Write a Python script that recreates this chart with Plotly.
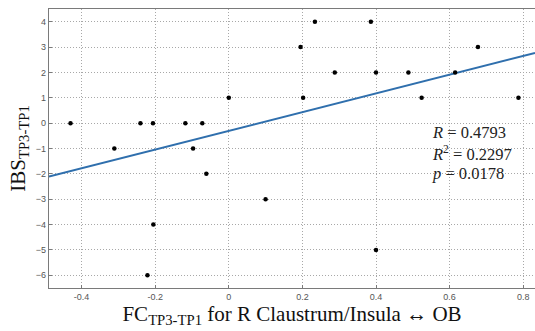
import plotly.graph_objects as go

fc_x = [-0.43, -0.311, -0.24, -0.206, -0.118, -0.097, -0.072, 0.0,
        -0.061, 0.100, -0.205, -0.221,
        0.234, 0.386, 0.195, 0.677, 0.288, 0.40, 0.488, 0.615, 0.202, 0.524, 0.787,
        0.40]
ibs_y = [0, -1, 0, 0, 0, -1, 0, 1,
         -2, -3, -4, -6,
         4, 4, 3, 3, 2, 2, 2, 2, 1, 1, 1,
         -5]

fit_x = [-0.4885, 0.832]
fit_y = [-2.11, 2.77]

x_ticks = [-0.4, -0.2, 0, 0.2, 0.4, 0.6, 0.8]
x_tick_text = ["-0.4", "-0.2", "0", "0.2", "0.4", "0.6", "0.8"]
y_ticks = [4, 3, 2, 1, 0, -1, -2, -3, -4, -5, -6]

stats_text = ["<i>R</i> = 0.4793", "<i>R</i><sup>2</sup> = 0.2297", "<i>p</i> = 0.0178"]
stats_y = [-0.38, -1.18, -1.98]

fig = go.Figure()
fig.add_trace(go.Scatter(x=fit_x, y=fit_y, mode="lines",
                         line=dict(color="#2f6fad", width=2), showlegend=False))
fig.add_trace(go.Scatter(x=fc_x, y=ibs_y, mode="markers",
                         marker=dict(color="black", size=4.5), showlegend=False))

for t, yy in zip(stats_text, stats_y):
    fig.add_annotation(x=0.548, y=yy, text=t, showarrow=False, xanchor="left",
                       yanchor="middle",
                       font=dict(family="Liberation Serif", size=16.5, color="#222"))

grid = dict(showgrid=True, gridcolor="#a8a8a8", griddash="1px,2px", gridwidth=1,
            showline=True, linecolor="#7a7a7a", linewidth=1.3,
            ticks="inside", ticklen=3, tickcolor="#7a7a7a",
            tickfont=dict(family="Liberation Sans", size=9, color="#555"),
            zeroline=False)

fig.update_xaxes(range=[-0.4885, 0.832], tickvals=x_ticks, ticktext=x_tick_text,
                 mirror=True,
                 title=dict(text="FC<sub>TP3-TP1</sub> for R Claustrum/Insula ↔ OB",
                            font=dict(family="Liberation Serif", size=21, color="#111"),
                            standoff=4),
                 **grid)
fig.update_yaxes(range=[-6.5, 4.5], tickvals=y_ticks, mirror=False,
                 title=dict(text="IBS<sub>TP3-TP1</sub>",
                            font=dict(family="Liberation Serif", size=21, color="#111"),
                            standoff=4),
                 **grid)

fig.update_layout(width=535, height=331, margin=dict(l=49, r=0, t=9, b=43),
                  plot_bgcolor="white", paper_bgcolor="white")

fig.write_html("out.html")
